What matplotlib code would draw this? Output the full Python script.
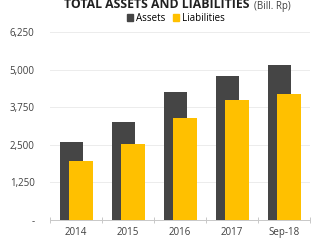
import matplotlib
matplotlib.use("Agg")
import matplotlib.pyplot as plt
import numpy as np
from matplotlib.patches import Patch

categories = ["2014", "2015", "2016", "2017", "Sep-18"]
assets = [2593, 3248, 4266, 4777, 5163]
liabilities = [1971, 2516, 3391, 3979, 4199]
yticks = [0, 1250, 2500, 3750, 5000, 6250]
yticklabels = ["-", "1,250", "2,500", "3,750", "5,000", "6,250"]

plt.rcParams['font.family'] = ['Open Sans', 'DejaVu Sans']

fig = plt.figure(figsize=(3.11, 2.43), dpi=100)
ax = fig.add_axes([50/311, 23/243, 260/311, 188/243])

x = np.arange(len(categories))
w = 0.45
c_asset = "#454545"
c_liab = "#FFC000"
ax.bar(x - 0.085, assets, width=w, color=c_asset, zorder=2)
ax.bar(x + 0.095, liabilities, width=w, color=c_liab, zorder=3)

ax.set_xlim(-0.5, len(categories) - 0.5)
ax.set_ylim(0, 6250)
ax.set_yticks(yticks)
ax.set_yticklabels(yticklabels, fontsize=7, color="#404040")
ax.tick_params(axis='y', length=0, pad=11)
ax.yaxis.grid(True, color="#ececec", linewidth=0.7, zorder=0)
ax.set_axisbelow(True)

ax.set_xticks(x)
ax.set_xticklabels(categories, fontsize=7, color="#404040")
ax.set_xticks(np.arange(len(categories) + 1) - 0.5, minor=True)
ax.tick_params(axis='x', which='major', length=0, pad=5)
ax.tick_params(axis='x', which='minor', length=5, direction='inout', color="#c8c8c8", width=0.7)

for s in ['top', 'right', 'left']:
    ax.spines[s].set_visible(False)
ax.spines['bottom'].set_color("#c8c8c8")
ax.spines['bottom'].set_linewidth(0.7)

fig.text(250/311, 1 - 8.5/243, "TOTAL ASSETS AND LIABILITIES", fontsize=8.8, fontweight='bold',
         color="#202020", ha='right', va='baseline')
fig.text(254/311, 1 - 8.5/243, "(Bill. Rp)", fontsize=7, color="#404040", ha='left', va='baseline')

handles = [Patch(color=c_asset, label="Assets"), Patch(color=c_liab, label="Liabilities")]
fig.legend(handles=handles, loc='center', bbox_to_anchor=(176/311, 1 - 18.5/243), ncol=2,
           frameon=False, fontsize=7, handlelength=0.6, handleheight=0.6,
           handletextpad=0.3, columnspacing=0.8, borderpad=0)

fig.savefig("out.png", dpi=100)
